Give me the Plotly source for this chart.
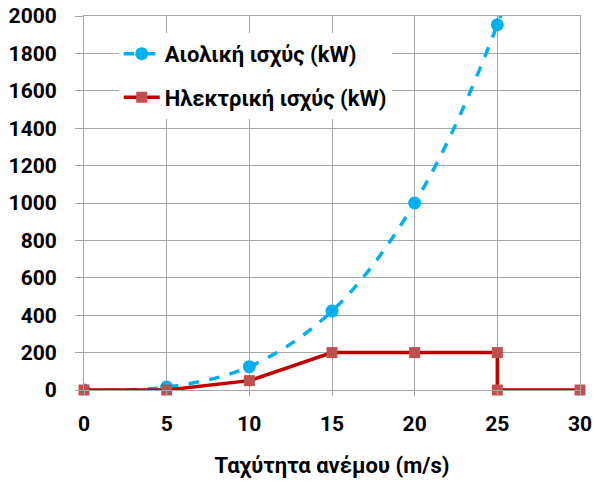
import plotly.graph_objects as go

# Data
wind_speed = [0, 5, 10, 15, 20, 25, 30]
wind_power = [0, 15.6, 125, 421.9, 1000, 1953.1, 3375]
elec_speed = [0, 5, 10, 15, 20, 25, 25, 30]
elec_power = [0, 0, 50, 200, 200, 200, 0, 0]

name_wind = "Αιολική ισχύς (kW)"
name_elec = "Ηλεκτρική ισχύς (kW)"
x_title = "Ταχύτητα ανέμου (m/s)"
x_ticks = [0, 5, 10, 15, 20, 25, 30]
y_ticks = list(range(0, 2001, 200))

FONT = "Roboto"
grid = "#a6a6a6"

fig = go.Figure()
fig.add_trace(go.Scatter(
    x=wind_speed, y=wind_power, name="<b>" + name_wind + "</b>", mode="lines+markers",
    legendgroup="a",
    line=dict(color="#00B0F0", width=3.5, dash="dash", shape="spline", smoothing=1.0),
    marker=dict(symbol="circle", color="#00B0F0", size=13),
    cliponaxis=True,
))
fig.add_trace(go.Scatter(
    x=elec_speed, y=elec_power, name="<b>" + name_elec + "</b>", mode="lines+markers",
    legendgroup="b",
    line=dict(color="#C00000", width=3.5),
    marker=dict(symbol="square", color="#C0504D", size=11),
    cliponaxis=False,
))

fig.update_layout(
    width=595, height=485,
    margin=dict(l=84, r=15, t=16, b=95, autoexpand=False),
    paper_bgcolor="white", plot_bgcolor="white",
    font=dict(family=FONT, size=18, color="black"),
    showlegend=True,
    legend=dict(x=0.07, y=0.955, xanchor="left", yanchor="top",
                bgcolor="white", borderwidth=0, traceorder="grouped",
                font=dict(family=FONT, size=22, color="black"),
                tracegroupgap=12, itemwidth=36),
    xaxis=dict(range=[0, 30], tickvals=x_ticks, showgrid=True, gridcolor=grid, gridwidth=1,
               zeroline=False, showline=True, linecolor=grid, mirror=True, automargin=False,
               ticks="outside", ticklen=5, tickcolor=grid, ticklabelstandoff=10,
               tickfont=dict(family=FONT, size=21, color="black", weight="bold"),
               title=dict(text="<b>" + x_title + "</b>", standoff=22,
                          font=dict(family=FONT, size=22, color="black"))),
    yaxis=dict(range=[0, 2000], tickvals=y_ticks, showgrid=True, gridcolor=grid, gridwidth=1,
               zeroline=False, showline=True, linecolor=grid, mirror=True, automargin=False,
               ticks="outside", ticklen=8, tickcolor=grid, ticklabelstandoff=14,
               tickfont=dict(family=FONT, size=21, color="black", weight="bold")),
)

fig.write_html("out.html")
